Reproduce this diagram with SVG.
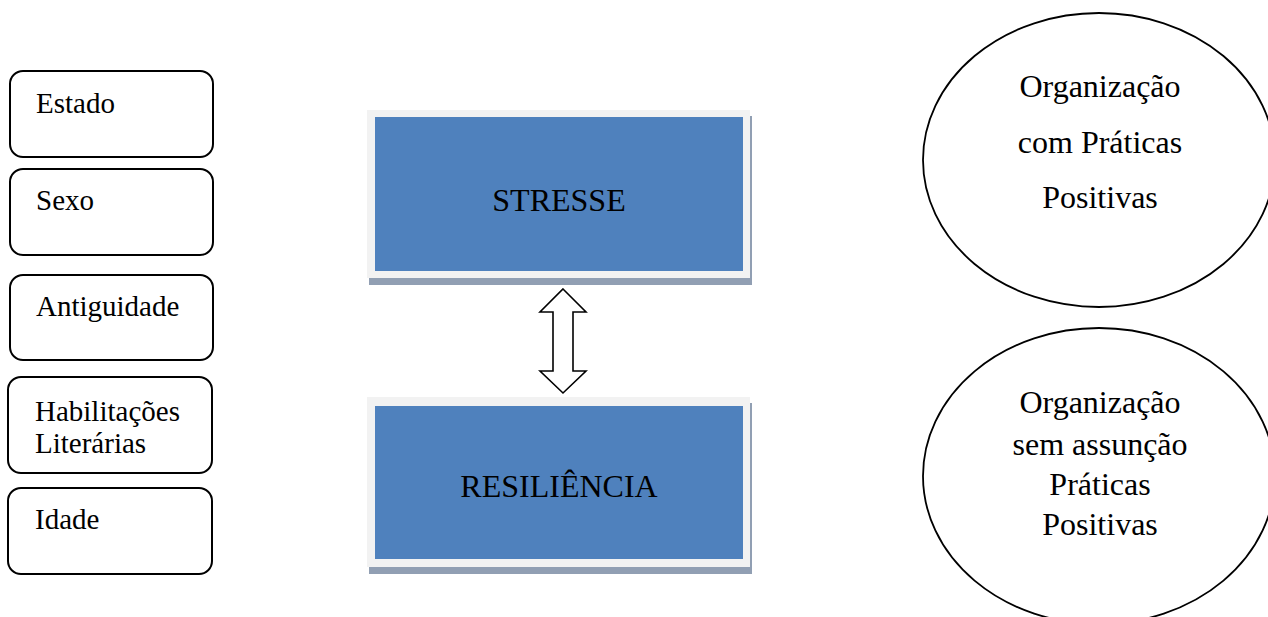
<svg xmlns="http://www.w3.org/2000/svg" width="1268" height="617" viewBox="0 0 1268 617">
<style>
.box{fill:#fff;stroke:#000;stroke-width:2}
.lt{font-family:"Liberation Serif","Times New Roman",serif;font-size:29px;fill:#000}
.ct{font-family:"Liberation Serif","Times New Roman",serif;font-size:32px;fill:#000;text-anchor:middle}
.shadow{fill:#919fb3}
.frame{fill:#f2f2f2}
.blue{fill:#4f81bd}
.ell{fill:#fff;stroke:#000;stroke-width:1.8}
</style>
<rect width="1268" height="617" fill="#fff"/>
<g id="estado"><rect class="box" x="10" y="71" width="203" height="86" rx="13"/><text class="lt" x="36" y="113">Estado</text></g>
<g id="sexo"><rect class="box" x="10" y="169" width="203" height="86" rx="13"/><text class="lt" x="36" y="210">Sexo</text></g>
<g id="antiguidade"><rect class="box" x="10" y="275" width="203" height="85" rx="13"/><text class="lt" x="36" y="316">Antiguidade</text></g>
<g id="habilitacoes"><rect class="box" x="8" y="377" width="204" height="96" rx="13"/><text class="lt" x="35" y="421">Habilitações</text><text class="lt" x="35" y="453">Literárias</text></g>
<g id="idade"><rect class="box" x="8" y="488" width="204" height="86" rx="13"/><text class="lt" x="35" y="529">Idade</text></g>
<g id="stresse"><rect class="shadow" x="369" y="116" width="383" height="169"/><rect class="frame" x="367" y="110" width="383" height="168"/><rect class="blue" x="375" y="117" width="368" height="154"/><text class="ct" x="559" y="211">STRESSE</text></g>
<g id="resiliencia"><rect class="shadow" x="369" y="403" width="383" height="171"/><rect class="frame" x="367" y="397" width="383" height="170"/><rect class="blue" x="375" y="406" width="368" height="153"/><text class="ct" x="559" y="497">RESILIÊNCIA</text></g>
<g id="connectors"><path d="M563,289 L586,312 L573,312 L573,371 L586,371 L563,393 L540,371 L553,371 L553,312 L540,312 Z" fill="#fff" stroke="#000" stroke-width="1.6" stroke-linejoin="miter"/></g>
<g id="org-com"><ellipse class="ell" cx="1099" cy="160" rx="176" ry="147"/><text class="ct" x="1100" y="97">Organização</text><text class="ct" x="1100" y="153">com Práticas</text><text class="ct" x="1100" y="208">Positivas</text></g>
<g id="org-sem"><ellipse class="ell" cx="1099" cy="476" rx="176" ry="148"/><text class="ct" x="1100" y="413">Organização</text><text class="ct" x="1100" y="455">sem assunção</text><text class="ct" x="1100" y="495">Práticas</text><text class="ct" x="1100" y="535">Positivas</text></g>
</svg>
